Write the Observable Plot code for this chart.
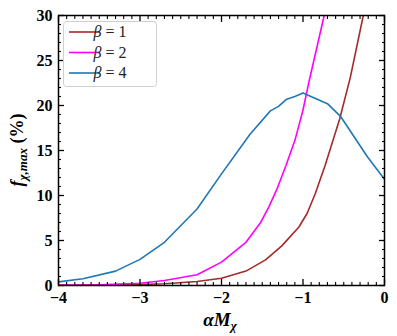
<!DOCTYPE html>
<html><head><meta charset="utf-8">
<script src="https://cdn.jsdelivr.net/npm/d3@7"></script>
<script src="https://cdn.jsdelivr.net/npm/@observablehq/plot@0.6"></script>
<style>body{margin:0;background:#fff} #c{width:397px;height:336px}</style>
</head><body><div id="c"></div>
<script>
// β = 1
const x1 = [-4, -3.0, -2.7, -2.3, -2.0, -1.7, -1.46, -1.26, -1.05, -0.95, -0.85, -0.73, -0.55, -0.42, -0.26, -0.2];
const y1 = [0.02, 0.1, 0.2, 0.45, 0.8, 1.6, 2.85, 4.4, 6.5, 8.0, 10.2, 13.3, 18.5, 23.1, 30, 32];
// β = 2
const x2 = [-4, -3.5, -3.0, -2.7, -2.3, -2.0, -1.7, -1.52, -1.42, -1.32, -1.21, -1.1, -1.0, -0.93, -0.74, -0.7];
const y2 = [0.05, 0.08, 0.25, 0.55, 1.2, 2.6, 4.8, 7.0, 8.7, 10.7, 13.3, 16.1, 19.5, 22.5, 30, 31.5];
// β = 4
const x4 = [-4, -3.7, -3.3, -3.0, -2.7, -2.3, -2.0, -1.65, -1.4, -1.3, -1.2, -1.1, -1.0, -0.7, -0.54, -0.21, 0];
const y4 = [0.4, 0.75, 1.6, 2.9, 4.8, 8.5, 12.4, 16.8, 19.4, 19.9, 20.7, 21.0, 21.4, 20.2, 18.8, 14.3, 11.8];

const seriesNames = ["β = 1", "β = 2", "β = 4"];
const seriesColors = ["#a52a2a", "#ff00ff", "#1f77b4"];

const xMajor = [-4, -3, -2, -1, 0];
const yMajor = [0, 5, 10, 15, 20, 25, 30];
const xMinor = d3.range(-40, 1).filter(i => i % 10 !== 0).map(i => i / 10);
const yMinor = d3.range(0, 31).filter(i => i % 5 !== 0);

const toRows = (xs, ys) => xs.map((x, i) => ({x, y: ys[i]}));
const rows = [toRows(x1, y1), toRows(x2, y2), toRows(x4, y4)];

const font = "'Liberation Serif', 'DejaVu Serif', serif";
const none = () => "";
const intFmt = d3.format("d");

const chart = Plot.plot({
  width: 397, height: 336,
  marginLeft: 58, marginRight: 13, marginTop: 15, marginBottom: 51,
  style: {fontFamily: font, fontSize: "16px", fontWeight: "bold", color: "black", background: "white"},
  x: {domain: [-4, 0]},
  y: {domain: [0, 30]},
  marks: [
    ...rows.map((r, i) => Plot.line(r, {x: "x", y: "y", stroke: seriesColors[i], strokeWidth: 1.6, clip: true})),
    Plot.axisX({anchor: "bottom", ticks: xMajor, tickSize: -6, tickPadding: 12, tickFormat: intFmt, strokeWidth: 1.3, label: null}),
    Plot.axisX({anchor: "bottom", ticks: xMinor, tickSize: -3, tickFormat: none, strokeWidth: 1.1, label: null}),
    Plot.axisX({anchor: "top", ticks: xMajor, tickSize: -6, tickFormat: none, strokeWidth: 1.3, label: null}),
    Plot.axisX({anchor: "top", ticks: xMinor, tickSize: -3, tickFormat: none, strokeWidth: 1.1, label: null}),
    Plot.axisY({anchor: "left", ticks: yMajor, tickSize: -6, tickPadding: 12, tickFormat: intFmt, strokeWidth: 1.3, label: null}),
    Plot.axisY({anchor: "left", ticks: yMinor, tickSize: -3, tickFormat: none, strokeWidth: 1.1, label: null}),
    Plot.axisY({anchor: "right", ticks: yMajor, tickSize: -6, tickFormat: none, strokeWidth: 1.3, label: null}),
    Plot.axisY({anchor: "right", ticks: yMinor, tickSize: -3, tickFormat: none, strokeWidth: 1.1, label: null}),
    Plot.frame({stroke: "black", strokeWidth: 1.5})
  ]
});

const svg = d3.select(chart);
// y label
const yl = svg.append("text")
  .attr("transform", "translate(23,150) rotate(-90)")
  .attr("text-anchor", "middle")
  .style("font-family", font).style("font-size", "18px").style("font-weight", "bold").attr("fill", "black");
yl.append("tspan").style("font-style", "italic").text("f");
yl.append("tspan").attr("dy", 4).style("font-size", "13px").style("font-style", "italic").text("χ,max");
yl.append("tspan").attr("dy", -4).text(" (%)");
// x label
const xl = svg.append("text")
  .attr("x", 220).attr("y", 326).attr("text-anchor", "middle")
  .style("font-family", font).style("font-size", "19px").style("font-weight", "bold").attr("fill", "black");
xl.append("tspan").style("font-style", "italic").text("αM");
xl.append("tspan").attr("dy", 4).style("font-size", "13px").style("font-style", "italic").text("χ");

// legend
const lg = svg.append("g");
lg.append("rect").attr("x", 63.5).attr("y", 21.5).attr("width", 93).attr("height", 65).attr("rx", 3)
  .attr("fill", "white").attr("fill-opacity", 0.8).attr("stroke", "#d0d0d0");
seriesNames.forEach((n, i) => {
  const yy = 32 + i * 20.5;
  lg.append("line").attr("x1", 69).attr("x2", 100).attr("y1", yy).attr("y2", yy)
    .attr("stroke", seriesColors[i]).attr("stroke-width", 1.6);
  const t = lg.append("text").attr("x", 110).attr("y", yy + 5)
    .style("font-family", font).style("font-size", "16px").style("font-weight", "normal").attr("fill", "#222");
  const parts = n.split(" ");
  t.append("tspan").style("font-style", "italic").text(parts[0]);
  t.append("tspan").text(" " + parts.slice(1).join(" "));
});

document.getElementById("c").append(chart);
</script>
</body></html>
